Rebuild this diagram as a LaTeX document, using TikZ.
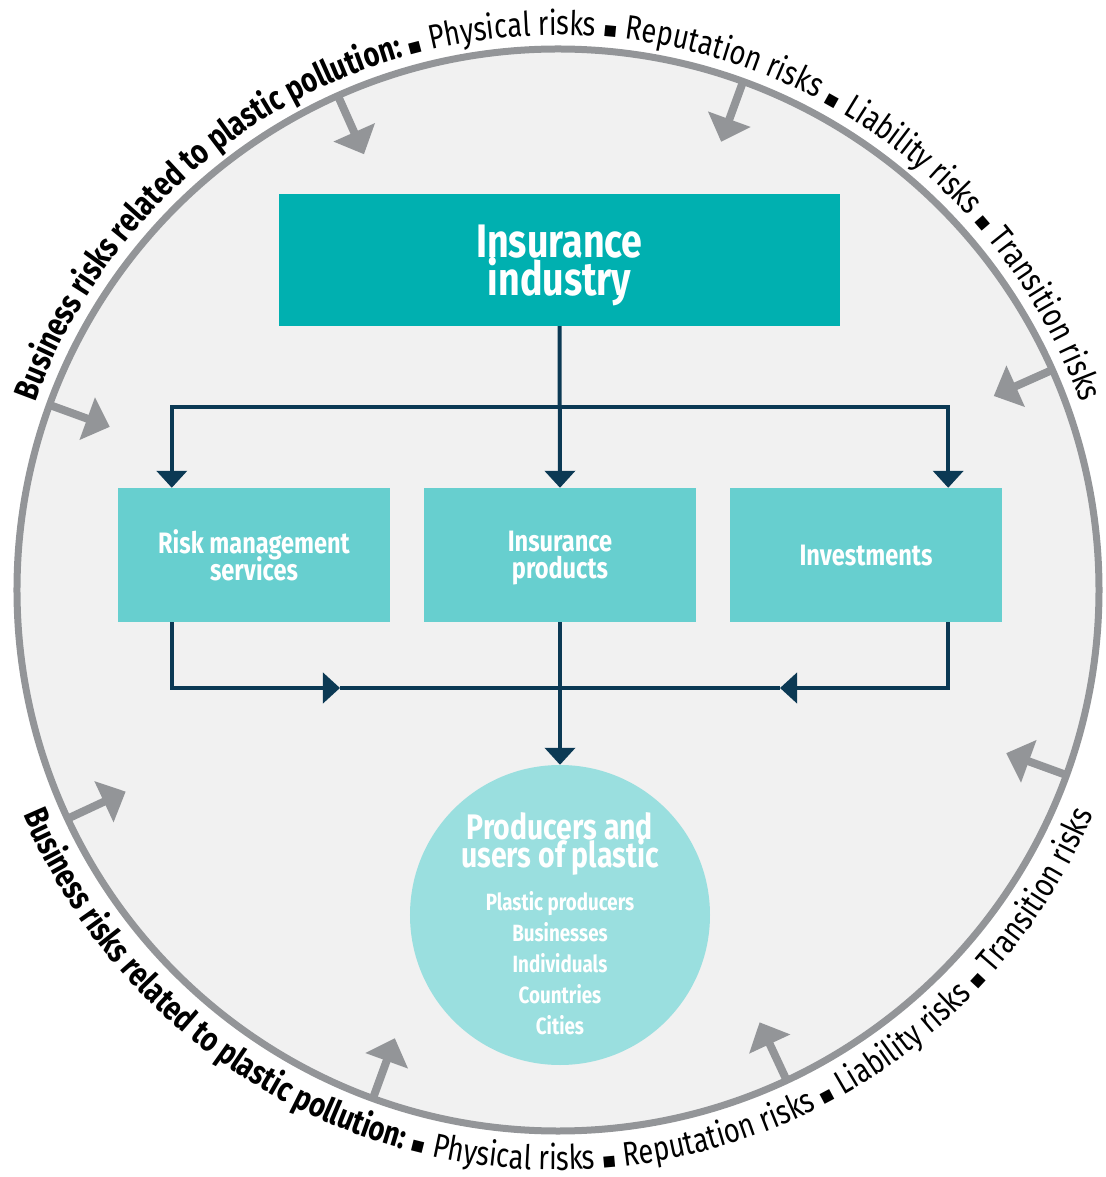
\documentclass[tikz,border=0pt]{standalone}
\usepackage{fontspec}
\setmainfont{Fira Sans}[FakeStretch=0.8]
\newfontfamily\sqfont{DejaVu Sans}
\usetikzlibrary{arrows.meta,decorations.text}
\definecolor{ring}{HTML}{939598}
\definecolor{disc}{HTML}{F1F1F1}
\definecolor{industry}{HTML}{00B0B0}
\definecolor{branch}{HTML}{67CFCF}
\definecolor{users}{HTML}{9ADFDF}
\definecolor{navy}{HTML}{0B3954}
\setlength{\lineskiplimit}{-50pt}
\newcommand{\arcfont}{\fontsize{34}{36}\selectfont}
\newcommand{\sqmark}{\fontsize{22}{22}\selectfont\sqfont}

\begin{document}
\begin{tikzpicture}[x=1pt, y=1pt,
    box/.style={fill=branch, text=white, font=\fontsize{29.5}{27}\selectfont\bfseries, align=center, minimum width=272pt, minimum height=134pt, inner sep=0pt, text depth=0pt},
    flow/.style={draw=navy, line width=4pt, -{Triangle[width=30pt,length=17pt]}},
    risk/.style={draw=ring, line width=8pt, -{Triangle[width=44pt,length=24pt]}},
    riskarc/.style={decorate, decoration={text along path, text align=center,
        text={|\arcfont\bfseries|Business risks related to plastic pollution: |\sqmark|▪|\arcfont\rmfamily\mdseries| Physical risks |\sqmark|▪|\arcfont\rmfamily\mdseries| Reputation risks |\sqmark|▪|\arcfont\rmfamily\mdseries| Liability risks |\sqmark|▪|\arcfont\rmfamily\mdseries| Transition risks}}}]
    \useasboundingbox (-558,590) rectangle (547,-587);
    %ring
    \draw[ring, fill=disc, line width=7pt] (0,0) circle[radius=541];
    \path[riskarc] (178:555) arc[start angle=178, end angle=2, radius=555];
    \path[riskarc] (182:580) arc[start angle=182, end angle=358, radius=580];
    \foreach \a in {160,114,70,24,205,250,295,340} {
        \coordinate (o\a) at (\a:541);
        \coordinate (i\a) at (\a:477);
        \draw[risk] (o\a) -- (i\a);
    }
    %nodes
    \node[fill=industry, text=white, font=\fontsize{47}{38}\selectfont\bfseries, align=center, minimum width=561pt, minimum height=132pt, inner sep=0pt, text depth=0pt] at (1.5,330) (ind) {Insurance\\industry};
    \node[box] at (-304,35) (rms) {Risk management\\services};
    \node[box] at (2,35) (prod) {Insurance\\products};
    \node[box] at (308,35) (inv) {Investments};
    \node[circle, fill=users, minimum size=300pt, inner sep=0pt] at (2,-325) (users) {};
    \node[text=white, font=\fontsize{35.5}{28}\selectfont\bfseries, align=center, text depth=0pt] at (2,-250) (usershead) {Producers and\\users of plastic};
    \node[text=white, font=\fontsize{23.5}{31}\selectfont\bfseries, align=center] at (2,-373) (userslist) {Plastic producers\\Businesses\\Individuals\\Countries\\Cities};
    %connectors
    \coordinate (split) at (2,183);
    \coordinate (merge) at (2,-98);
    \coordinate (lin) at (-218,-98);
    \coordinate (rin) at (222,-98);
    \draw[flow] (ind.south) -- (prod.north);
    \draw[flow] (split) -| ([xshift=54pt]rms.north west);
    \draw[flow] (split) -| ([xshift=-54pt]inv.north east);
    \draw[flow] ([xshift=54pt]rms.south west) |- (lin);
    \draw[flow] ([xshift=-54pt]inv.south east) |- (rin);
    \draw[navy, line width=4pt] (lin) -- (rin);
    \draw[flow] (prod.south) -- (users.north);
\end{tikzpicture}
\end{document}
